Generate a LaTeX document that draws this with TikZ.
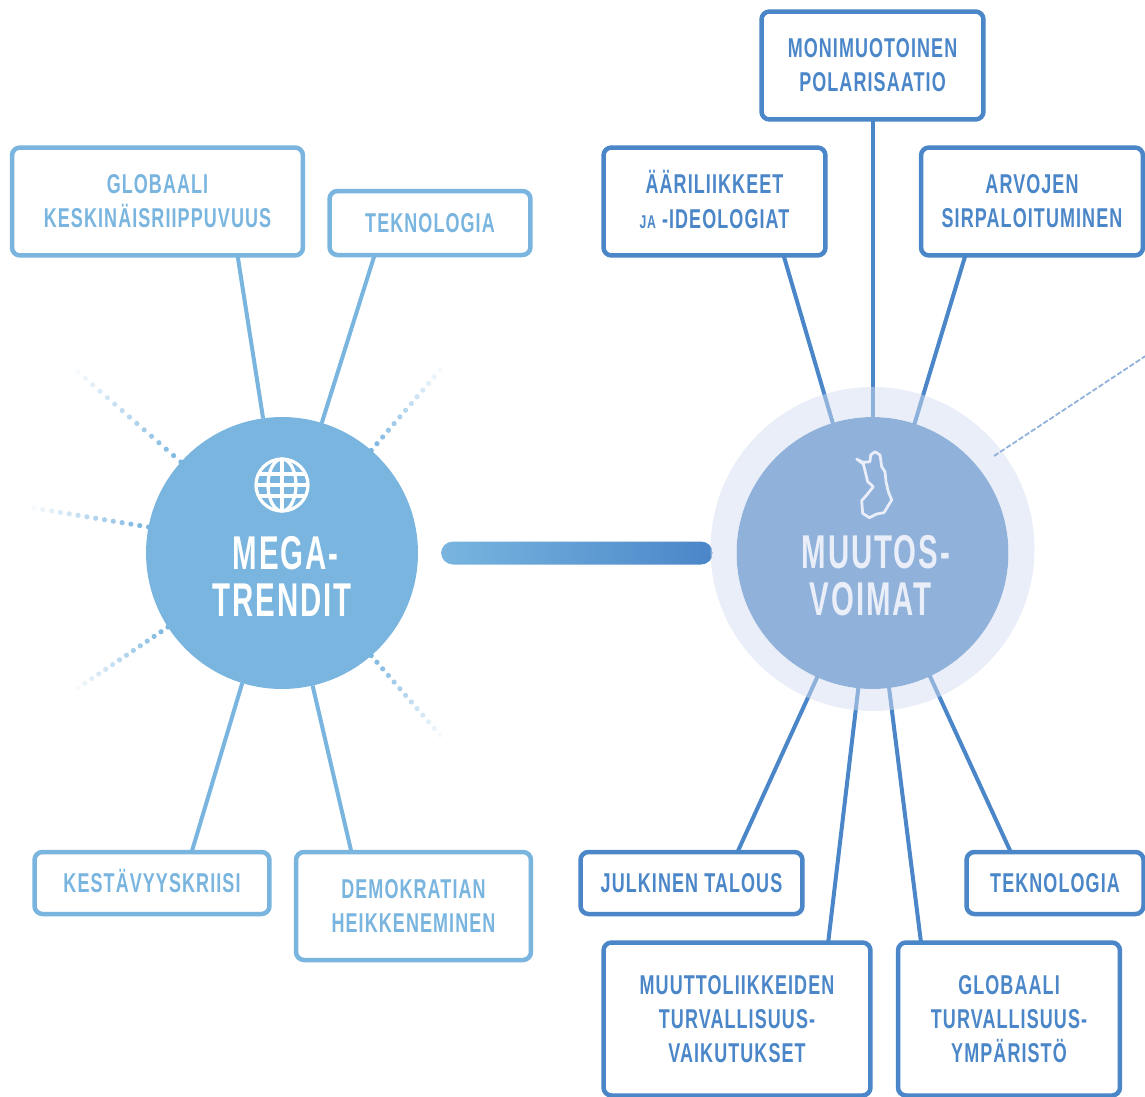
\documentclass[tikz,border=0pt]{standalone}
\usepackage{fontspec}
\setmainfont[FakeStretch=0.66,LetterSpace=4]{Liberation Sans}
\newfontfamily\hubfont[FakeStretch=0.62,LetterSpace=4]{Liberation Sans}
\usetikzlibrary{calc}
\definecolor{megablue}{HTML}{79B5DF}
\definecolor{voimablue}{HTML}{4A86C8}
\definecolor{voimahub}{HTML}{90B1DA}
\definecolor{halotext}{HTML}{E9EEF8}
\definecolor{halofill}{HTML}{D3DDF1}
\newcommand{\capline}[1]{\raisebox{0pt}[11pt][0pt]{#1}}
\tikzset{
    topicbox/.style={draw, fill=white, line width=.09cm, rounded corners=.16cm, inner sep=0pt, outer sep=0pt, align=center,
        font=\fontsize{15.5}{19.4}\selectfont\bfseries},
    megabox/.style={topicbox, draw=megablue, text=megablue},
    voimabox/.style={topicbox, draw=voimablue, text=voimablue},
    hubnode/.style={circle, minimum size=5.44cm, inner sep=0pt, outer sep=0pt},
    hublabel/.style={align=center, inner sep=0pt, font=\hubfont\fontsize{27}{26.7}\selectfont\bfseries},
    megaline/.style={draw=megablue, line width=.08cm},
    voimaline/.style={draw=voimablue, line width=.08cm},
    iconline/.style={line width=.065cm, line join=round}
}
\begin{document}
\begin{tikzpicture}[x=.02cm,y=-.02cm]
    \useasboundingbox (0,0) rectangle (1145,1096);

    % vasen puoli
    \node[hubnode, fill=megablue] (mega) at (282,553) {};
    \node[megabox, minimum width=5.82cm, minimum height=2.16cm] (keskin) at (157.5,201.5) {GLOBAALI\\KESKINÄISRIIPPUVUUS};
    \node[megabox, minimum width=4.02cm, minimum height=1.28cm] (tekno) at (430,223) {TEKNOLOGIA};
    \node[megabox, minimum width=4.7cm, minimum height=1.24cm] (kestav) at (152,883) {\capline{KESTÄVYYSKRIISI}};
    \node[megabox, minimum width=4.7cm, minimum height=2.16cm] (demo) at (413.5,906) {DEMOKRATIAN\\HEIKKENEMINEN};

    \draw[megaline] (keskin.-34.2) -- (mega.98.6);
    \draw[megaline] (tekno.-150.3) -- (mega.73);
    \draw[megaline] (kestav.38.8) -- (mega.-107);
    \draw[megaline] (demo.139.2) -- (mega.-77);

    % haalenevat pisteet
    \coordinate (ray1) at (78,372);
    \coordinate (ray2) at (34,508);
    \coordinate (ray3) at (78,688);
    \coordinate (ray4) at (440,370);
    \coordinate (ray5) at (440,735);
    \foreach \ang/\tip/\num in {138/ray1/14, 169.5/ray2/13, 213/ray3/13, 49/ray4/12, -49/ray5/12}{
        \foreach \i in {0,...,\num}{
            \fill[megablue, opacity={1-\i/(\num+1)}] ($(mega.\ang)!{\i/\num}!(\tip)$) circle (2.6);
        }
    }

    % oikea puoli
    \node[hubnode, fill=voimahub] (voimat) at (872.5,553) {};
    \node[voimabox, minimum width=4.44cm, minimum height=2.16cm] (polar) at (872.5,65.5) {MONIMUOTOINEN\\POLARISAATIO};
    \node[voimabox, minimum width=4.44cm, minimum height=2.16cm] (aari) at (714.5,201.5) {\capline{ÄÄRILIIKKEET}\\{\fontsize{10.5}{19.4}\selectfont JA} -IDEOLOGIAT};
    \node[voimabox, minimum width=4.44cm, minimum height=2.16cm] (arvot) at (1032,201.5) {ARVOJEN\\SIRPALOITUMINEN};
    \node[voimabox, minimum width=4.44cm, minimum height=1.24cm] (talous) at (691.5,883) {JULKINEN TALOUS};
    \node[voimabox, minimum width=3.54cm, minimum height=1.24cm] (teknob) at (1055,883) {TEKNOLOGIA};
    \node[voimabox, minimum width=5.34cm, minimum height=3.06cm] (muutto) at (737,1019) {MUUTTOLIIKKEIDEN\\TURVALLISUUS-\\VAIKUTUKSET};
    \node[voimabox, minimum width=4.44cm, minimum height=3.06cm] (ymparisto) at (1009,1019) {GLOBAALI\\TURVALLISUUS-\\YMPÄRISTÖ};

    \draw[voimaline] (polar.south) -- (voimat.90);
    \draw[voimaline] (aari.-38.7) -- (voimat.107);
    \draw[voimaline] (arvot.-141.1) -- (voimat.72.4);
    \draw[voimaline] (talous.34.3) -- (voimat.-114.7);
    \draw[voimaline] (teknob.145.4) -- (voimat.-65);
    \draw[voimaline] (muutto.40.4) -- (voimat.-96.5);
    \draw[voimaline] (ymparisto.139.6) -- (voimat.-83);

    % liukuvari ja kehä
    \node[left color=megablue, right color=voimablue, rounded corners=.24cm, minimum width=5.44cm, minimum height=.46cm, inner sep=0pt] (link) at (577,553) {};
    \fill[halofill, fill opacity=.5, even odd rule] (872.5,549) circle (162) (voimat.center) circle (136);

    \coordinate (dashA) at (994,456);
    \coordinate (dashB) at (1147,355);
    \draw[voimahub, line width=.035cm, dash pattern=on 3pt off 1.2pt] (dashA) -- (dashB);

    % tekstit
    \node[hublabel, text=white] (megatext) at (282,576) {\hspace{4pt}MEGA-\\TRENDIT};
    \node[hublabel, text=halotext] (voimatext) at (876,576) {MUUTOS-\\VOIMAT\hspace*{6pt}};

    % maapallo
    \begin{scope}[shift={(282,485)}, white, iconline]
        \draw (0,0) circle (26);
        \draw (0,-26) -- (0,26);
        \draw (0,0) ellipse (14 and 26);
        \draw (-25,0) -- (25,0);
        \draw (-23,-11) -- (23,-11);
        \draw (-23,11) -- (23,11);
    \end{scope}

    % Suomen kartta
    \begin{scope}[shift={(700,340)}, x=.00667cm, y=-.00667cm]
        \draw[halotext, line width=.055cm, line join=round] (470,357) -- (490,372) -- (497,400) -- (503,425) -- (520,440) -- (500,465) -- (485,482) -- (488,520) -- (508,533) -- (530,522) -- (552,518) -- (575,480) -- (565,455) -- (558,425) -- (555,395) -- (545,380) -- (540,345) -- (525,335) -- (512,345) -- (510,365) -- (490,367) -- cycle;
    \end{scope}
\end{tikzpicture}
\end{document}
